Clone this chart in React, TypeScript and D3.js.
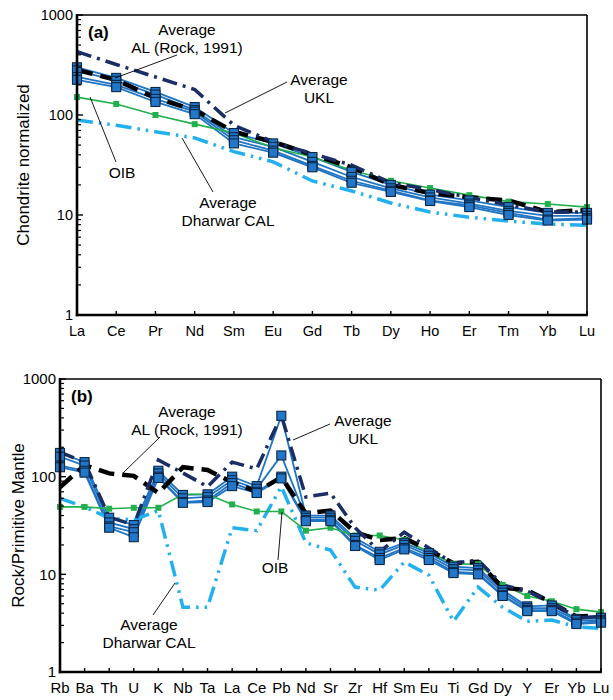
import React from "react";
import * as d3 from "d3";

// ---------- Panel (a) data: chondrite-normalized REE ----------
const reeCats = ["La", "Ce", "Pr", "Nd", "Sm", "Eu", "Gd", "Tb", "Dy", "Ho", "Er", "Tm", "Yb", "Lu"];
const reeSample1 = [300, 235, 170, 120, 66, 52, 38, 27, 20, 16, 14, 12, 10.5, 10.5];
const reeSample2 = [280, 220, 160, 112, 60, 48, 34, 24, 18.5, 15, 13, 11, 9.8, 9.8];
const reeSample3 = [240, 200, 145, 108, 56, 44, 31, 22, 17.5, 14, 12.5, 10.5, 9.0, 9.3];
const reeSample4 = [225, 190, 135, 102, 52, 42, 30, 21, 17, 13.8, 12, 10, 8.8, 9.0];
const reeAvgUKL = [430, 320, 240, 180, 79, 54, 41, 31.6, 21, 18, 15, 12.6, 10.7, 10.7];
const reeAvgAL = [282, 224, 148, 112, 68, 54, 40, 30, 20, 16.6, 15, 14, 10.7, 11.2];
const reeOIB = [151, 129, 100, 81, 66, 47, 38, 28, 22, 18.6, 15.8, 13.6, 12.9, 12];
const reeDharwar = [89, 79, 68, 59, 43, 34, 21.9, 17.4, 13.2, 10.7, 9.5, 8.7, 8.1, 7.9];

// ---------- Panel (b) data: primitive-mantle normalized ----------
const pmCats = ["Rb", "Ba", "Th", "U", "K", "Nb", "Ta", "La", "Ce", "Pb", "Nd", "Sr", "Zr", "Hf", "Sm", "Eu", "Ti", "Gd", "Dy", "Y", "Er", "Yb", "Lu"];
const pmSample1 = [175, 141, 38, 32, 115, 65, 66, 100, 80, 420, 40, 40, 23.5, 17, 21, 16.5, 12, 11.6, 6.9, 4.7, 4.8, 3.5, 3.6];
const pmSample2 = [160, 130, 34, 29, 108, 60, 62, 92, 75, 165, 38, 38, 22, 16, 20, 15.5, 11.3, 11, 6.5, 4.5, 4.5, 3.4, 3.4];
const pmSample3 = [130, 115, 31, 27, 100, 55, 57, 86, 70, 100, 36, 36, 20, 14.7, 18.6, 14.7, 10.6, 10.3, 6.1, 4.3, 4.3, 3.2, 3.3];
const pmSample4 = [125, 110, 30, 24, 97, 54, 55, 80, 68, 96, 35, 35, 19.5, 14, 18, 14, 10.3, 10, 6, 4.2, 4.2, 3.1, 3.2];
const pmAvgUKL = [178, 141, 38.6, 32, 148, 109, 79, 141, 120, 425, 62, 68, 30, 17, 27, 18.6, 13, 14, 7.8, 6.7, 5.2, 3.6, 3.7];
const pmAvgAL = [78, 131, 108, 102, 68, 125, 117, 88, 70, 99, 42, 45, 27, 22.5, 23.5, 17.7, 13, 13.4, 7.3, 6.9, 5.1, 3.7, 3.8];
const pmOIB = [49, 49, 47, 48, 48, 66, 66, 52, 44, 44, 28, 30, 25, 25, 22.5, 17, 12.8, 12.7, 7.8, 6.0, 5.3, 4.4, 4.1];
const pmDharwar = [60, 49, 37.7, 36, 45, 4.6, 4.6, 30, 28, 79, 21, 17.7, 7.4, 6.9, 13.4, 9.8, 3.3, 7.4, 4.6, 3.3, 3.4, 2.9, 2.8];

const yTicks = [1, 10, 100, 1000];

const FONT = "'Liberation Sans', Arial, Helvetica, sans-serif";
const C_SAMPLE = "#1f74c4";
const C_MARK = "#2277c9";
const C_MARK_STROKE = "#0c2747";
const C_NAVY = "#1b2d66";
const C_BLACK = "#000000";
const C_GREEN = "#21b04b";
const C_LIGHT = "#22b0ee";

type PanelProps = {
  cats: string[];
  samples: number[][];
  avgUKL: number[];
  avgAL: number[];
  oib: number[];
  dharwar: number[];
  x0: number; x1: number; y0: number; y1: number;
  yTitle: string;
  titleX: number;
  tag: string;
  labelSize: number;
  children?: React.ReactNode;
};

function Panel(p: PanelProps) {
  const x = d3.scalePoint<string>().domain(p.cats).range([p.x0, p.x1]).padding(0);
  const y = d3.scaleLog().domain([1, 1000]).range([p.y1, p.y0]);
  const line = d3
    .line<number>()
    .x((_, i) => x(p.cats[i]) as number)
    .y((d) => y(d));

  const minor: number[] = [];
  for (let dec = 1; dec < 1000; dec *= 10) for (let k = 2; k <= 9; k++) minor.push(dec * k);

  const ms = 9;
  const gs = 6;
  return (
    <g>
      {p.samples.map((s, i) => (
        <path key={"s" + i} d={line(s) || ""} fill="none" stroke={C_SAMPLE} strokeWidth={1.8} />
      ))}
      <path d={line(p.dharwar) || ""} fill="none" stroke={C_LIGHT} strokeWidth={3.5} strokeDasharray="16,6,2.5,6,2.5,6" />
      <path d={line(p.oib) || ""} fill="none" stroke={C_GREEN} strokeWidth={1.6} />
      <path d={line(p.avgAL) || ""} fill="none" stroke={C_BLACK} strokeWidth={4.5} strokeDasharray="16,8" />
      <path d={line(p.avgUKL) || ""} fill="none" stroke={C_NAVY} strokeWidth={3.5} strokeDasharray="15,6,3,6" />
      {p.oib.map((v, i) => (
        <rect key={"g" + i} x={(x(p.cats[i]) as number) - gs / 2} y={y(v) - gs / 2} width={gs} height={gs} fill={C_GREEN} />
      ))}
      {p.samples.map((s, si) =>
        s.map((v, i) => (
          <rect
            key={"m" + si + "-" + i}
            x={(x(p.cats[i]) as number) - ms / 2}
            y={y(v) - ms / 2}
            width={ms}
            height={ms}
            fill={C_MARK}
            stroke={C_MARK_STROKE}
            strokeWidth={1.1}
          />
        ))
      )}
      <line x1={p.x0} x2={p.x1} y1={p.y0} y2={p.y0} stroke="#000" strokeWidth={1.6} />
      <line x1={p.x1} x2={p.x1} y1={p.y0} y2={p.y1} stroke="#000" strokeWidth={1.6} />
      <line x1={p.x0} x2={p.x0} y1={p.y0 - 1} y2={p.y1 + 1.2} stroke="#000" strokeWidth={2.6} />
      <line x1={p.x0 - 1.2} x2={p.x1 + 0.8} y1={p.y1} y2={p.y1} stroke="#000" strokeWidth={2.6} />
      {minor.map((m) => (
        <line key={"mn" + m} x1={p.x0} x2={p.x0 + 4} y1={y(m)} y2={y(m)} stroke="#000" strokeWidth={1.2} />
      ))}
      {yTicks.map((t) => (
        <g key={"yt" + t}>
          <line x1={p.x0} x2={p.x0 + 6} y1={y(t)} y2={y(t)} stroke="#000" strokeWidth={1.4} />
          <text x={p.x0 - 4} y={y(t)} dy="0.36em" textAnchor="end" fontSize={p.labelSize} fontFamily={FONT}>
            {t}
          </text>
        </g>
      ))}
      {p.cats.map((c) => (
        <g key={"xt" + c}>
          <line x1={x(c) as number} x2={x(c) as number} y1={p.y1} y2={p.y1 - 4} stroke="#000" strokeWidth={1.4} />
          <text x={x(c) as number} y={p.y1 + 21} textAnchor="middle" fontSize={p.labelSize} fontFamily={FONT}>
            {c}
          </text>
        </g>
      ))}
      <text
        transform={`translate(${p.titleX},${(p.y0 + p.y1) / 2}) rotate(-90)`}
        textAnchor="middle"
        dy="0.36em"
        fontSize={17}
        fontFamily={FONT}
      >
        {p.yTitle}
      </text>
      <text x={p.x0 + 11} y={p.y0 + 23} fontSize={17} fontWeight="bold" fontFamily={FONT}>
        {p.tag}
      </text>
      {p.children}
    </g>
  );
}

function Note({ x, y, lines }: { x: number; y: number; lines: string[] }) {
  return (
    <text x={x} y={y} textAnchor="middle" fontSize={15.5} fontFamily={FONT}>
      {lines.map((l, i) => (
        <tspan key={i} x={x} dy={i === 0 ? 0 : 18}>
          {l}
        </tspan>
      ))}
    </text>
  );
}

export default function App() {
  return (
    <svg width={613} height={700} style={{ position: "absolute", left: 0, top: 0, background: "#fff" }}>
      <Panel
        cats={reeCats}
        samples={[reeSample1, reeSample2, reeSample3, reeSample4]}
        avgUKL={reeAvgUKL}
        avgAL={reeAvgAL}
        oib={reeOIB}
        dharwar={reeDharwar}
        x0={77}
        x1={587}
        y0={15}
        y1={315}
        yTitle="Chondrite normalized"
        titleX={23}
        tag="(a)"
        labelSize={14.5}
      >
        <Note x={187} y={35} lines={["Average", "AL (Rock, 1991)"]} />
        <line x1={177} y1={55} x2={115} y2={78} stroke="#000" strokeWidth={0.9} />
        <Note x={319} y={85} lines={["Average", "UKL"]} />
        <line x1={287} y1={82} x2={225} y2={113} stroke="#000" strokeWidth={0.9} />
        <Note x={122} y={178} lines={["OIB"]} />
        <line x1={90} y1={97} x2={116} y2={162} stroke="#000" strokeWidth={0.9} />
        <Note x={228} y={208} lines={["Average", "Dharwar CAL"]} />
        <line x1={182} y1={138} x2={213} y2={192} stroke="#000" strokeWidth={0.9} />
      </Panel>
      <Panel
        cats={pmCats}
        samples={[pmSample1, pmSample2, pmSample3, pmSample4]}
        avgUKL={pmAvgUKL}
        avgAL={pmAvgAL}
        oib={pmOIB}
        dharwar={pmDharwar}
        x0={60}
        x1={601}
        y0={379}
        y1={672}
        yTitle="Rock/Primitive Mantle"
        titleX={18}
        tag="(b)"
        labelSize={15}
      >
        <Note x={187} y={417} lines={["Average", "AL (Rock, 1991)"]} />
        <line x1={160} y1={437} x2={123} y2={473} stroke="#000" strokeWidth={0.9} />
        <Note x={363} y={426} lines={["Average", "UKL"]} />
        <line x1={330} y1={424} x2={293} y2={440} stroke="#000" strokeWidth={0.9} />
        <Note x={275} y={573} lines={["OIB"]} />
        <line x1={278} y1={560} x2={282} y2={512} stroke="#000" strokeWidth={0.9} />
        <Note x={149} y={630} lines={["Average", "Dharwar CAL"]} />
        <line x1={153} y1={615} x2={175} y2={583} stroke="#000" strokeWidth={0.9} />
      </Panel>
    </svg>
  );
}
